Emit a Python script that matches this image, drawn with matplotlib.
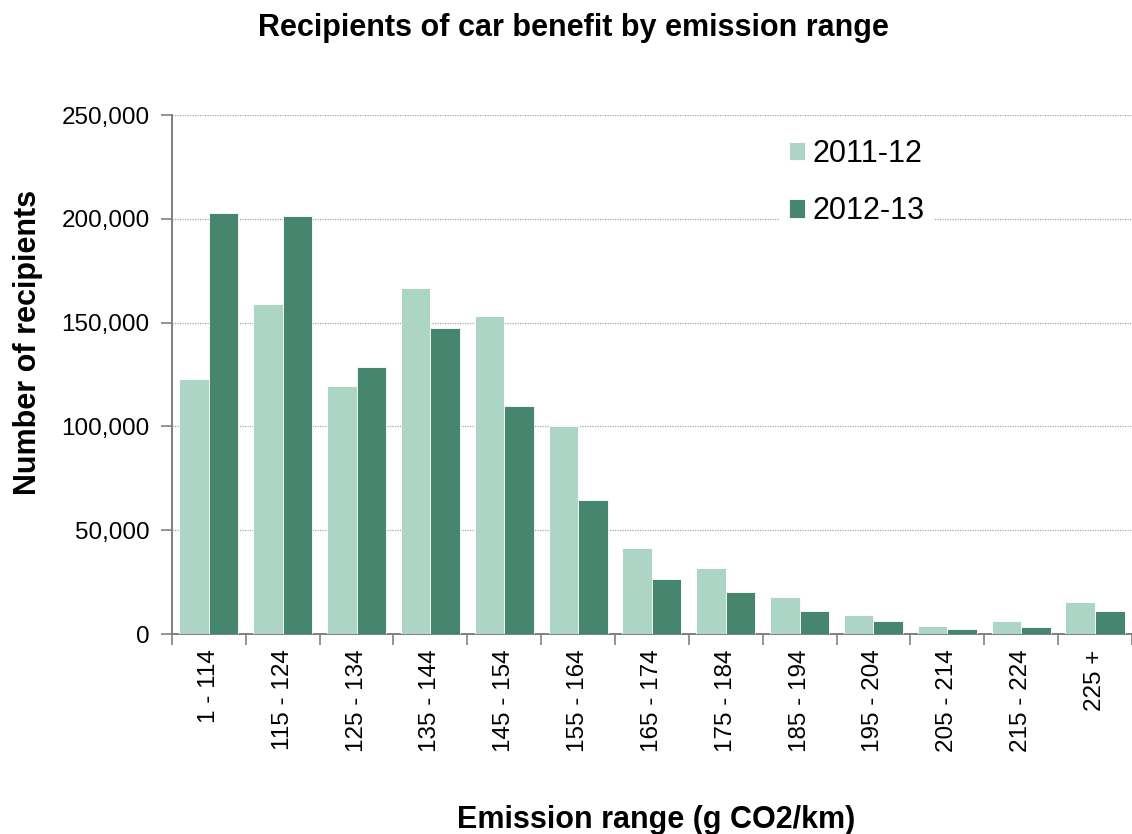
#!/usr/bin/env python3
"""Bar chart: recipients of car benefit by CO2 emission range, two tax years."""
import numpy as np
import matplotlib
matplotlib.use("Agg")
import matplotlib.pyplot as plt
from matplotlib.ticker import FuncFormatter, FixedLocator

plt.rcParams["font.family"] = ["Liberation Sans", "DejaVu Sans"]

# emission bands (g CO2/km)
bands = ["1 - 114", "115 - 124", "125 - 134", "135 - 144", "145 - 154",
         "155 - 164", "165 - 174", "175 - 184", "185 - 194", "195 - 204",
         "205 - 214", "215 - 224", "225 +"]

# number of recipients per band
recip_2011 = [122600, 158800, 119600, 166600, 153000, 100300, 41600,
              31700, 18000, 9300, 4000, 6100, 15300]
recip_2012 = [203000, 201300, 128400, 147200, 110000, 64600, 26500,
              20300, 11300, 6400, 2600, 3500, 11300]

series_names = ["2011-12", "2012-13"]
light_green = "#add5c6"
dark_green = "#46866e"
axis_grey = "#808080"

fig = plt.figure(figsize=(11.32, 8.34), dpi=100)
ax = fig.add_axes([0.1519, 0.2398, 0.848, 0.6223])

x = np.arange(len(bands))
w = 0.4
ax.bar(x - w / 2, recip_2011, width=w, color=light_green, edgecolor="white",
       linewidth=0.6, label=series_names[0], zorder=3)
ax.bar(x + w / 2, recip_2012, width=w, color=dark_green, edgecolor="white",
       linewidth=0.6, label=series_names[1], zorder=3)

ax.set_xlim(-0.5, len(bands) - 0.5)
ax.set_ylim(0, 250000)
ax.set_yticks(np.arange(0, 250001, 50000))
ax.yaxis.set_major_formatter(FuncFormatter(lambda v, p: f"{int(v):,}"))

# labels sit under each band, tick marks between bands
ax.set_xticks(x)
ax.set_xticklabels(bands, rotation=90, va="top", ha="center")
ax.xaxis.set_minor_locator(FixedLocator(np.arange(-0.5, len(bands), 1.0)))
ax.tick_params(axis="x", which="major", length=0, pad=11, labelsize=17.5)
ax.tick_params(axis="x", which="minor", length=8, width=1.2, color=axis_grey,
               direction="out")
ax.tick_params(axis="y", which="major", length=8, width=1.2, color=axis_grey,
               pad=8, labelsize=17.5)

for side in ("top", "right"):
    ax.spines[side].set_visible(False)
for side in ("left", "bottom"):
    ax.spines[side].set_color(axis_grey)
    ax.spines[side].set_linewidth(1.4)

ax.yaxis.grid(True, linestyle=(0, (1, 1)), color="#a6a6a6", linewidth=0.9,
              zorder=0)
ax.set_axisbelow(True)

leg = ax.legend(loc="center left", bbox_to_anchor=(0.675, 0.781),
                bbox_transform=fig.transFigure, fontsize=22,
                handlelength=0.55, handleheight=0.55, handletextpad=0.25,
                labelspacing=0.9, borderpad=0.3, frameon=True,
                fancybox=False, framealpha=1.0)
leg.get_frame().set_edgecolor("none")
leg.get_frame().set_facecolor("white")

fig.text(0.507, 0.966, "Recipients of car benefit by emission range",
         ha="center", va="center", fontsize=22, fontweight="bold")
fig.text(0.025, 0.589, "Number of recipients", rotation=90,
         ha="center", va="center", fontsize=22, fontweight="bold")
fig.text(0.58, 0.017, "Emission range (g CO2/km)",
         ha="center", va="center", fontsize=22, fontweight="bold")

fig.savefig("out.png", dpi=100)
